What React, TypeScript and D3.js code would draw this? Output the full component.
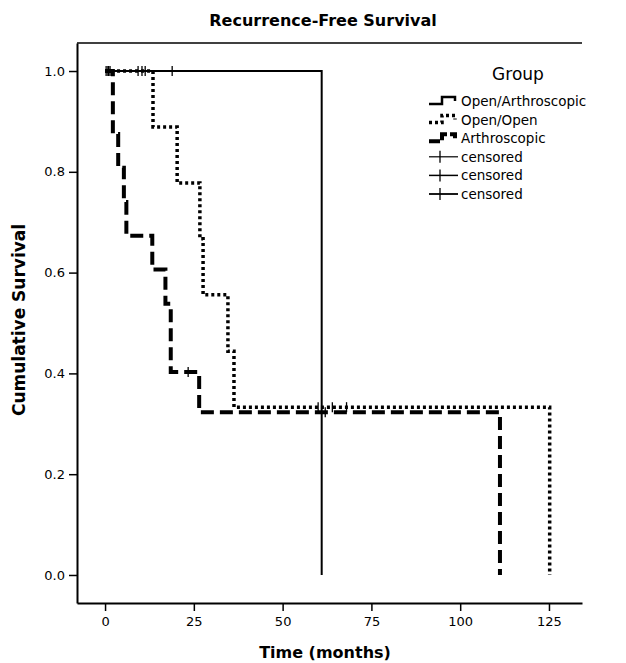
import React, { useRef, useEffect } from "react";
import * as d3 from "d3";

// groups in legend order
const groups = ["Open/Arthroscopic", "Open/Open", "Arthroscopic"];

// step points (time in months, cumulative survival)
const openArthTimes = [0, 61];
const openArthSurv = [1.0, 0.0];
const openArthCensor = [0.3, 1.0, 18.9];

const openOpenTimes = [0, 13.5, 20.3, 26.7, 27.6, 34.6, 36.3, 125.2];
const openOpenSurv = [1.0, 0.889, 0.778, 0.667, 0.556, 0.444, 0.333, 0.0];
const openOpenCensor = [9.3, 10.4, 11.3, 60, 64, 68];

const arthTimes = [0, 2.2, 3.7, 5.3, 6.0, 13.3, 17.0, 18.5, 26.5, 111.2];
const arthSurv = [1.0, 0.875, 0.808, 0.74, 0.673, 0.606, 0.538, 0.403, 0.323, 0.0];
const arthCensor = [0.8, 1.4, 23.4, 62];

const xTicks = [0, 25, 50, 75, 100, 125];
const yTicks = [0, 0.2, 0.4, 0.6, 0.8, 1.0];

const FONT = "'DejaVu Sans', sans-serif";

export default function App() {
  const svgRef = useRef<SVGSVGElement | null>(null);

  useEffect(() => {
    const svg = d3.select(svgRef.current);
    svg.selectAll("*").remove();

    const x = d3.scaleLinear().domain([-7.9, 134.3]).range([77, 582]);
    const y = d3.scaleLinear().domain([-0.0556, 1.0556]).range([603, 43]);

    // title
    svg
      .append("text")
      .attr("x", 323)
      .attr("y", 26)
      .attr("text-anchor", "middle")
      .style("font-family", FONT)
      .style("font-size", "16px")
      .style("font-weight", "bold")
      .text("Recurrence-Free Survival");

    // top frame line
    svg
      .append("line")
      .attr("x1", 77)
      .attr("x2", 582)
      .attr("y1", 43)
      .attr("y2", 43)
      .attr("stroke", "#000")
      .attr("stroke-width", 1.5);

    // axes
    const yAxis = d3
      .axisLeft(y)
      .tickValues(yTicks)
      .tickFormat(d3.format(".1f"))
      .tickSize(8)
      .tickSizeOuter(0);
    const gy = svg.append("g").attr("transform", "translate(77,0)").call(yAxis);

    const xAxis = d3
      .axisBottom(x)
      .tickValues(xTicks)
      .tickFormat(d3.format("d"))
      .tickSize(8)
      .tickSizeOuter(0);
    const gx = svg.append("g").attr("transform", "translate(0,603)").call(xAxis);

    [gx, gy].forEach((g) => {
      g.select(".domain").attr("stroke-width", 2);
      g.selectAll(".tick line").attr("stroke-width", 1.5);
      g.selectAll(".tick text")
        .style("font-family", FONT)
        .style("font-size", "13px")
        .attr("fill", "#000");
    });
    gy.selectAll(".tick text").attr("x", -12);
    gx.selectAll(".tick text").attr("y", 14);

    // axis titles
    svg
      .append("text")
      .attr("x", 325)
      .attr("y", 658)
      .attr("text-anchor", "middle")
      .style("font-family", FONT)
      .style("font-size", "16px")
      .style("font-weight", "bold")
      .text("Time (months)");

    svg
      .append("text")
      .attr("transform", "translate(25,320) rotate(-90)")
      .attr("text-anchor", "middle")
      .style("font-family", FONT)
      .style("font-size", "17px")
      .style("font-weight", "bold")
      .text("Cumulative Survival");

    // survival curves
    const series = [
      { times: openArthTimes, surv: openArthSurv, censor: openArthCensor, width: 2, dash: null as string | null },
      { times: openOpenTimes, surv: openOpenSurv, censor: openOpenCensor, width: 3.5, dash: "3,3" },
      { times: arthTimes, surv: arthSurv, censor: arthCensor, width: 4, dash: "13,6" },
    ];

    const line = d3
      .line<[number, number]>()
      .x((d) => x(d[0]))
      .y((d) => y(d[1]))
      .curve(d3.curveStepAfter);

    // survival value at time t for censor marks
    const survAt = (times: number[], surv: number[], t: number) => {
      let s = surv[0];
      for (let i = 0; i < times.length; i++) if (times[i] <= t) s = surv[i];
      return s;
    };

    series.forEach((s) => {
      const pts: [number, number][] = s.times.map((t, i) => [t, s.surv[i]]);
      const p = svg
        .append("path")
        .attr("d", line(pts))
        .attr("fill", "none")
        .attr("stroke", "#000")
        .attr("stroke-width", s.width);
      if (s.dash) p.attr("stroke-dasharray", s.dash);

      svg
        .append("g")
        .selectAll("line")
        .data(s.censor)
        .enter()
        .append("line")
        .attr("x1", (d) => x(d))
        .attr("x2", (d) => x(d))
        .attr("y1", (d) => y(survAt(s.times, s.surv, d)) - 5)
        .attr("y2", (d) => y(survAt(s.times, s.surv, d)) + 5)
        .attr("stroke", "#000")
        .attr("stroke-width", 1.3);
    });

    // legend
    const lg = svg.append("g");
    lg.append("text")
      .attr("x", 518)
      .attr("y", 80)
      .attr("text-anchor", "middle")
      .style("font-family", FONT)
      .style("font-size", "17px")
      .text("Group");

    const rowY = (i: number) => 101 + i * 18.6;
    const labels = [...groups, "censored", "censored", "censored"];
    labels.forEach((lab, i) => {
      const yy = rowY(i);
      if (i < 3) {
        const s = series[i];
        const p = lg
          .append("path")
          .attr("d", `M429,${yy + 3}H442V${yy - 4}H455V${yy}`)
          .attr("fill", "none")
          .attr("stroke", "#000")
          .attr("stroke-width", i === 0 ? 2.5 : s.width);
        if (i === 1) p.attr("stroke-dasharray", "3,3");
        if (i === 2) p.attr("stroke-dasharray", "11,3");
      } else {
        lg.append("line")
          .attr("x1", 429)
          .attr("x2", 458)
          .attr("y1", yy)
          .attr("y2", yy)
          .attr("stroke", "#000")
          .attr("stroke-width", 1.2 + (i - 3) * 0.3);
        lg.append("line")
          .attr("x1", 440)
          .attr("x2", 440)
          .attr("y1", yy - 6)
          .attr("y2", yy + 6)
          .attr("stroke", "#000")
          .attr("stroke-width", 1.3);
      }
      lg.append("text")
        .attr("x", 461)
        .attr("y", yy + 5)
        .style("font-family", FONT)
        .style("font-size", "13.5px")
        .text(lab);
    });
  }, []);

  return (
    <svg
      ref={svgRef}
      width={626}
      height={663}
      style={{ position: "absolute", left: 0, top: 0, display: "block", background: "#fff" }}
    ></svg>
  );
}
